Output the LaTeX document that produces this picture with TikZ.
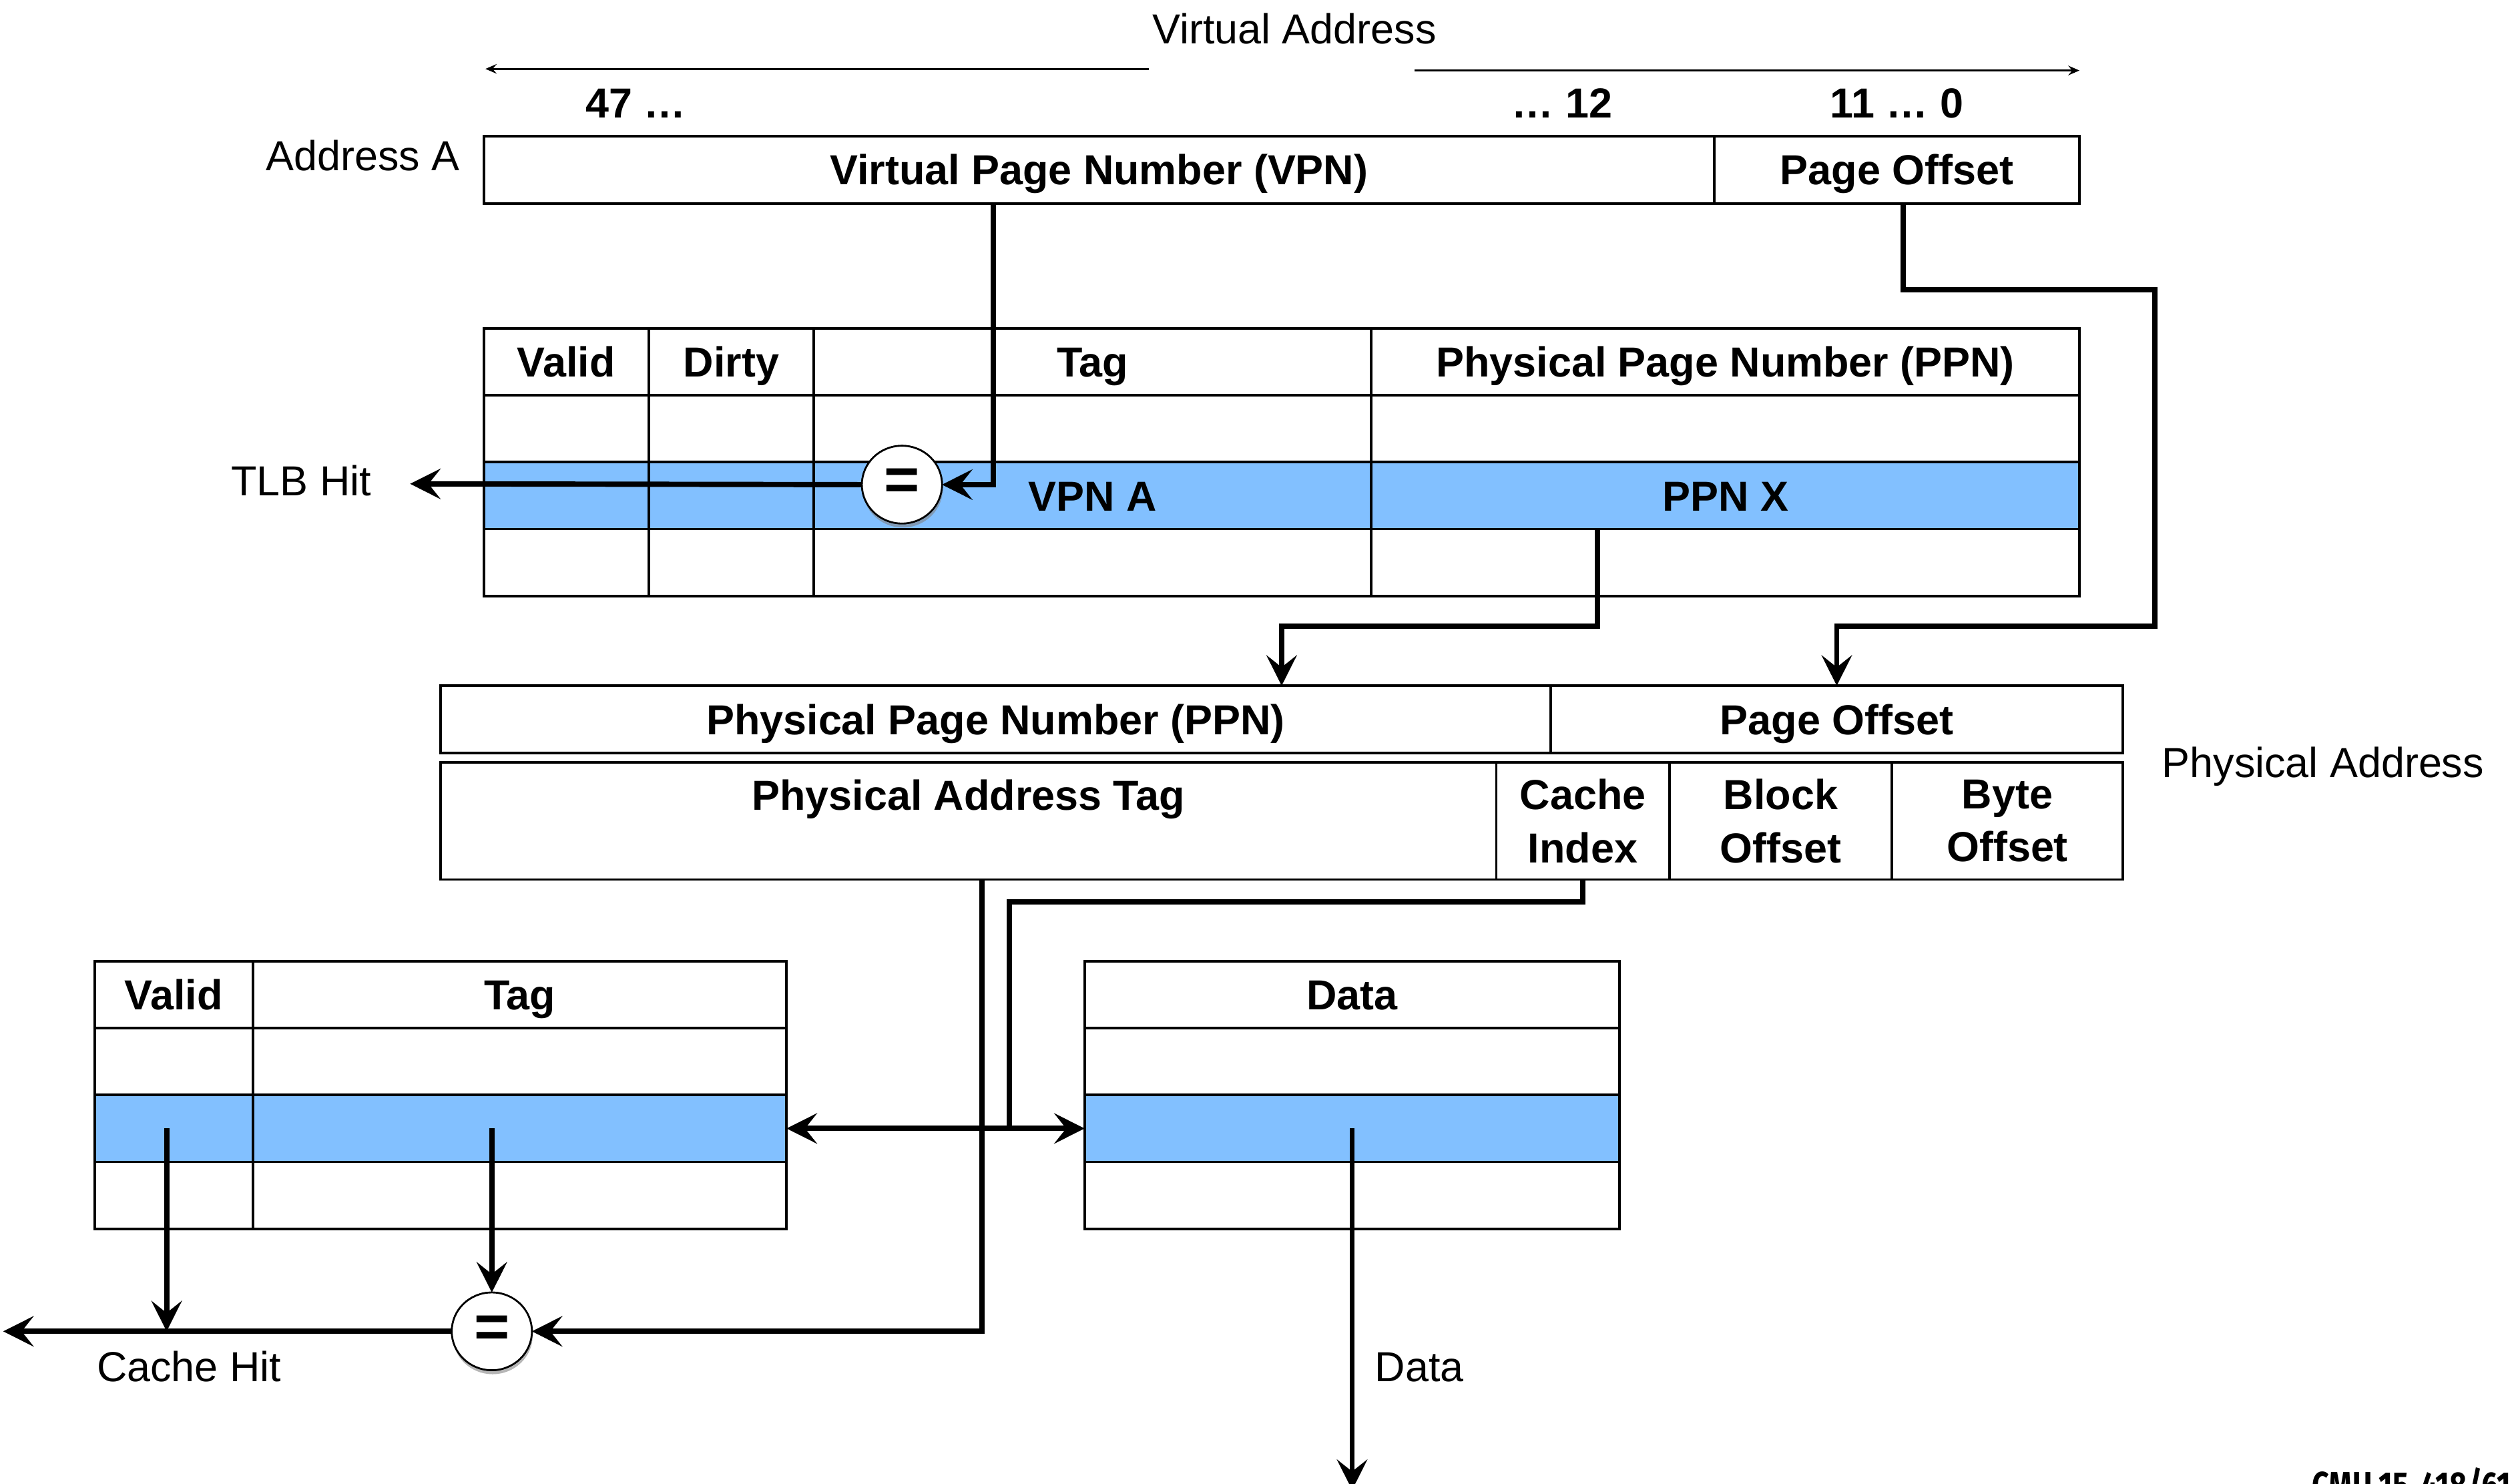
\documentclass[tikz,border=0pt]{standalone}
\usepackage{fontspec}
\setmainfont{Liberation Sans}
\newfontfamily\condfont{Fira Sans}
\usetikzlibrary{arrows.meta,shadows,calc,shapes.geometric}
\definecolor{hlblue}{RGB}{130,192,255}
\begin{document}
\begin{tikzpicture}[x=1pt,y=-1pt,
  every node/.style={font=\fontsize{26.2}{33}\selectfont, inner sep=0pt, outer sep=0pt},
  cell/.style={draw, line width=1.6pt, minimum height=41.75pt, text height=18.8pt, text depth=0pt,
    font=\fontsize{26.2}{33}\selectfont\bfseries},
  cellb/.style={draw, line width=1.6pt, minimum height=73pt, align=center,
    font=\fontsize{26.2}{33}\selectfont\bfseries},
  hl/.style={fill=hlblue},
  lbl/.style={text height=18.8pt, text depth=0pt},
  blbl/.style={text height=18.8pt, text depth=0pt, font=\fontsize{26.2}{33}\selectfont\bfseries},
  conn/.style={line width=3.3pt},
  thinconn/.style={line width=1.4pt},
  bigtip/.tip={Stealth[length=19pt,width=19pt,inset=7.5pt]},
  smalltip/.tip={Stealth[length=7pt,width=6pt,inset=2.5pt]},
  eqc/.style={ellipse, draw, fill=white, line width=1.1pt, minimum width=50pt, minimum height=48.5pt,
    drop shadow={shadow xshift=0.5pt, shadow yshift=-2.5pt, opacity=0.35},
    font=\fontsize{38}{38}\selectfont\bfseries},
]
\useasboundingbox (0,0) rectangle (1568,926);

% ---- Virtual address header
\node[lbl] (va) at (808,18) {Virtual Address};
\coordinate (va1) at (717,43); \coordinate (vaL) at (303,43);
\coordinate (va2) at (883,44); \coordinate (vaR) at (1298,44);
\draw[thinconn,-smalltip] (va1) -- (vaL);
\draw[thinconn,-smalltip] (va2) -- (vaR);
\node[blbl] (b47) at (397,64) {47 …};
\node[blbl] (b12) at (975,64) {… 12};
\node[blbl] (b11) at (1184,64) {11 … 0};
\node[lbl] (addrA) at (226.5,97) {Address A};
\node[cell, minimum width=768pt, minimum height=42pt] (vpn) at (686,106) {Virtual Page Number (VPN)};
\node[cell, minimum width=228pt, minimum height=42pt] (voff) at (1184,106) {Page Offset};

% ---- TLB
\foreach \n/\cx/\w/\h/\r in {1/353.5/103/Valid/{}, 2/456.5/103/Dirty/{}, 3/682/348/Tag/VPN A, 4/1077/442/Physical Page Number (PPN)/PPN X}{
  \node[cell, minimum width=\w pt] (t1\n) at (\cx,225.875) {\h};
  \node[cell, minimum width=\w pt] (t2\n) at (\cx,267.625) {};
  \node[cell, hl, minimum width=\w pt] (t3\n) at (\cx,309.375) {\r};
  \node[cell, minimum width=\w pt] (t4\n) at (\cx,351.125) {};
}
\node[lbl] (tlbhit) at (188,300) {TLB Hit};

% ---- Physical address
\node[cell, minimum width=693pt, minimum height=42pt] (pppn) at (621.5,449) {Physical Page Number (PPN)};
\node[cell, minimum width=357pt, minimum height=42pt] (ppoff) at (1146.5,449) {Page Offset};
\node[cellb, minimum width=659pt] (ptag) at (604.5,512.5) {Physical Address Tag\\\mbox{}};
\node[cellb, minimum width=108pt] (pcidx) at (988,512.5) {Cache\\Index};
\node[cellb, minimum width=139pt] (pboff) at (1111.5,512.5) {Block\\Offset};
\node[cellb, minimum width=144pt] (pbyte) at (1253,512.5) {Byte\\Offset};
\node[lbl] (physA) at (1450,476) {Physical Address};

% ---- Cache tag array and data array
\foreach \n/\cx/\w/\h in {1/108.5/99/Valid, 2/324.5/333/Tag}{
  \node[cell, minimum width=\w pt] (c1\n) at (\cx,620.875) {\h};
  \node[cell, minimum width=\w pt] (c2\n) at (\cx,662.625) {};
  \node[cell, hl, minimum width=\w pt] (c3\n) at (\cx,704.375) {};
  \node[cell, minimum width=\w pt] (c4\n) at (\cx,746.125) {};
}
\node[cell, minimum width=334pt] (d1) at (844,620.875) {Data};
\node[cell, minimum width=334pt] (d2) at (844,662.625) {};
\node[cell, hl, minimum width=334pt] (d3) at (844,704.375) {};
\node[cell, minimum width=334pt] (d4) at (844,746.125) {};

% ---- comparators (positions)
\node[eqc] (eq1) at (563,302.5) {=};
\node[eqc] (eq2) at (307,831) {=};

% ---- connectors: TLB
\coordinate (x620) at (620,0);
\draw[conn,-bigtip] (vpn.south -| x620) |- (eq1.east);
\coordinate (tlbend) at (256,302);
\draw[conn,-bigtip] (eq1.west) -- (tlbend);
\coordinate (x1188) at (1188,0); \coordinate (j1) at (1345,181); \coordinate (j2) at (1345,391);
\draw[conn,-bigtip] (voff.south -| x1188) |- (j1) -- (j2) -| (ppoff.north);
\coordinate (x997) at (997,0); \coordinate (k1) at (800,391);
\draw[conn,-bigtip] (t34.south -| x997) |- (k1) -- (pppn.north -| k1);

% ---- connectors: cache
\coordinate (x613) at (613,0);
\draw[conn,-bigtip] (ptag.south -| x613) |- (eq2.east);
\coordinate (n1) at (630,563);
\draw[conn] (pcidx.south) |- (n1) -- (n1 |- c32.east);
\draw[conn,bigtip-bigtip] (c32.east) -- (d3.west);
\coordinate (v1) at (104,702);
\draw[conn,-bigtip] (c31.center -| v1) -- (v1 |- eq2.west);
\draw[conn,-bigtip] (eq2 |- c32.center) -- (eq2.north);
\coordinate (chend) at (2,831);
\draw[conn,-bigtip] (eq2.west) -- (chend);
\node[lbl] (chit) at (118,853) {Cache Hit};
\coordinate (dend) at (844,930);
\draw[conn,-bigtip] (d3.center) -- (dend);
\node[lbl] (dlbl) at (886,853) {Data};

% comparators drawn again on top of the connectors
\node[eqc] at (eq1) {=};
\node[eqc] at (eq2) {=};

% ---- footer (cut by the page edge, as in the reference)
\node[anchor=north west, font=\condfont\bfseries\fontsize{24}{24}\selectfont] (cmu) at (1443,916) {\scalebox{0.78}[1]{CMU 15-418/618}};
\end{tikzpicture}
\end{document}
